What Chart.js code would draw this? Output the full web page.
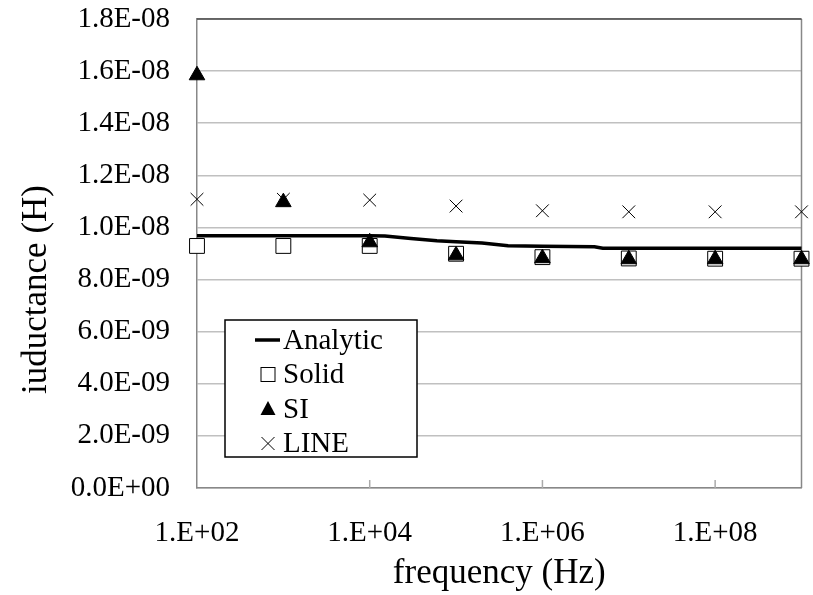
<!DOCTYPE html>
<html>
<head>
<meta charset="utf-8">
<script src="https://cdn.jsdelivr.net/npm/chart.js@4.4.1/dist/chart.umd.min.js"></script>
<style>
  html, body { margin: 0; padding: 0; background: #fff; }
  #wrap { width: 813px; height: 595px; position: relative; }
</style>
</head>
<body>
<div id="wrap"><canvas id="indChart"></canvas></div>
<script>
// frequencies of the simulated points
var freqs = [1e2, 1e3, 1e4, 1e5, 1e6, 1e7, 1e8, 1e9];
var solidVals = [9.29e-9, 9.29e-9, 9.29e-9, 8.99e-9, 8.86e-9, 8.81e-9, 8.8e-9, 8.8e-9];
var siVals = [1.584e-8, 1.097e-8, 9.43e-9, 8.93e-9, 8.82e-9, 8.78e-9, 8.78e-9, 8.78e-9];
var lineVals = [1.108e-8, 1.108e-8, 1.105e-8, 1.082e-8, 1.064e-8, 1.06e-8, 1.06e-8, 1.06e-8];

// analytic curve
var analyticFreqs = [1e2, 1e3, 1e4, 1.5e4, 3e4, 6e4, 1e5, 2e5, 4e5, 1e6, 4e6, 5e6, 1e7, 1e8, 1e9];
var analyticVals = [9.68e-9, 9.68e-9, 9.68e-9, 9.67e-9, 9.58e-9, 9.49e-9, 9.45e-9, 9.4e-9, 9.3e-9, 9.28e-9, 9.26e-9, 9.2e-9, 9.2e-9, 9.2e-9, 9.2e-9];

var xTicks = [1e2, 1e4, 1e6, 1e8];
var yTicks = [0, 2e-9, 4e-9, 6e-9, 8e-9, 1e-8, 1.2e-8, 1.4e-8, 1.6e-8, 1.8e-8];

var xTitle = 'frequency (Hz)';
var yTitle = 'iuductance (H)';

var serif = '"Liberation Serif", "Times New Roman", serif';

function pts(xs, ys) {
    return xs.map(function (x, i) { return { x: x, y: ys[i] }; });
}

function pad2(n) {
    n = Math.abs(n);
    return (n < 10 ? '0' : '') + n;
}

function fmtY(v) {
    var parts = v.toExponential(1).split('e');
    var e = parseInt(parts[1], 10);
    return parts[0] + 'E' + (e < 0 ? '-' : '+') + pad2(e);
}

function fmtX(v) {
    var e = Math.round(Math.log10(v));
    return '1.E' + (e < 0 ? '-' : '+') + pad2(e);
}

// frame round the plot area + small inward ticks on the x axis + y title
var framePlugin = {
    id: 'frame',
    beforeDatasetsDraw: function (chart) {
        var a = chart.chartArea, ctx = chart.ctx;
        ctx.save();
        ctx.strokeStyle = '#888888';
        ctx.lineWidth = 1.5;
        ctx.beginPath();
        ctx.moveTo(a.right, a.top);
        ctx.lineTo(a.right, a.bottom);
        ctx.stroke();
        ctx.strokeStyle = '#444444';
        ctx.beginPath();
        ctx.moveTo(a.left, a.top);
        ctx.lineTo(a.right, a.top);
        ctx.stroke();
        // inward tick marks
        var xs = chart.scales.x;
        ctx.strokeStyle = '#aaaaaa';
        ctx.lineWidth = 1.5;
        xs.ticks.forEach(function (t) {
            var px = xs.getPixelForValue(t.value);
            if (px <= a.left + 2) return;
            ctx.beginPath();
            ctx.moveTo(px, a.bottom);
            ctx.lineTo(px, a.bottom - 8);
            ctx.stroke();
        });
        // y axis title (sits a bit below the plot centre, like the original)
        ctx.translate(37, (a.top + a.bottom) / 2 + 36);
        ctx.rotate(-Math.PI / 2);
        ctx.font = '35px ' + serif;
        ctx.fillStyle = '#000';
        ctx.textAlign = 'center';
        ctx.textBaseline = 'middle';
        ctx.fillText(yTitle, 0, 0);
        ctx.restore();
    }
};

// legend box inside plot area
var legendPlugin = {
    id: 'boxLegend',
    afterDraw: function (chart) {
        var a = chart.chartArea, ctx = chart.ctx;
        var bx = a.left + 28, by = a.top + 301, bw = 192, bh = 137;
        ctx.save();
        ctx.fillStyle = '#ffffff';
        ctx.fillRect(bx, by, bw, bh);
        ctx.strokeStyle = '#000000';
        ctx.lineWidth = 1.5;
        ctx.strokeRect(bx, by, bw, bh);

        var names = chart.data.datasets.map(function (d) { return d.label; });
        var order = ['Analytic', 'Solid', 'SI', 'LINE'];
        var sx = bx + 43, tx = bx + 58;
        ctx.font = '29px ' + serif;
        ctx.textBaseline = 'middle';
        ctx.fillStyle = '#000';
        order.forEach(function (name, i) {
            var cy = by + 20 + i * 34.5;
            var ds = chart.data.datasets[names.indexOf(name)];
            ctx.strokeStyle = '#000';
            ctx.fillStyle = '#000';
            if (name === 'Analytic') {
                ctx.lineWidth = 3.5;
                ctx.beginPath();
                ctx.moveTo(sx - 13, cy);
                ctx.lineTo(sx + 12, cy);
                ctx.stroke();
            } else if (ds.pointStyle === 'rect') {
                ctx.lineWidth = 1;
                ctx.fillStyle = '#fff';
                ctx.fillRect(sx - 7, cy - 7, 14, 14);
                ctx.strokeRect(sx - 7, cy - 7, 14, 14);
            } else if (ds.pointStyle === 'triangle') {
                ctx.beginPath();
                ctx.moveTo(sx, cy - 8);
                ctx.lineTo(sx + 7.5, cy + 6);
                ctx.lineTo(sx - 7.5, cy + 6);
                ctx.closePath();
                ctx.fill();
            } else {
                ctx.lineWidth = 1;
                ctx.beginPath();
                ctx.moveTo(sx - 6.5, cy - 6.5);
                ctx.lineTo(sx + 6.5, cy + 6.5);
                ctx.moveTo(sx + 6.5, cy - 6.5);
                ctx.lineTo(sx - 6.5, cy + 6.5);
                ctx.stroke();
            }
            ctx.fillStyle = '#000';
            ctx.fillText(name, tx, cy + 1);
        });
        ctx.restore();
    }
};

var ctx = document.getElementById('indChart').getContext('2d');
var indChart = new Chart(ctx, {
    type: 'scatter',
    data: {
        datasets: [
            {
                label: 'Analytic',
                data: pts(analyticFreqs, analyticVals),
                showLine: true,
                borderColor: '#000000',
                borderWidth: 3.5,
                pointRadius: 0,
                tension: 0,
                clip: false,
                order: 2
            },
            {
                label: 'Solid',
                data: pts(freqs, solidVals),
                pointStyle: 'rect',
                pointRadius: 10.5,
                backgroundColor: '#ffffff',
                borderColor: '#000000',
                borderWidth: 1,
                clip: false,
                order: 3
            },
            {
                label: 'SI',
                data: pts(freqs, siVals),
                pointStyle: 'triangle',
                pointRadius: 9,
                backgroundColor: '#000000',
                borderColor: '#000000',
                borderWidth: 1,
                clip: false,
                order: 1
            },
            {
                label: 'LINE',
                data: pts(freqs, lineVals),
                pointStyle: 'crossRot',
                pointRadius: 9,
                borderColor: '#000000',
                borderWidth: 1,
                clip: false,
                order: 0
            }
        ]
    },
    options: {
        responsive: true,
        maintainAspectRatio: false,
        animation: false,
        layout: { padding: { top: 19, right: 11, bottom: 0, left: 0 } },
        plugins: {
            legend: { display: false },
            tooltip: { enabled: false }
        },
        scales: {
            x: {
                type: 'logarithmic',
                min: 1e2,
                max: 1e9,
                afterBuildTicks: function (s) {
                    s.ticks = xTicks.map(function (v) { return { value: v }; });
                },
                afterFit: function (s) { s.height = 107; },
                grid: { display: false, drawTicks: false },
                border: { display: true, color: '#888888', width: 1.5 },
                ticks: {
                    color: '#000',
                    font: { family: serif, size: 29 },
                    padding: 28,
                    maxRotation: 0,
                    autoSkip: false,
                    callback: function (v) { return fmtX(v); }
                },
                title: {
                    display: true,
                    text: xTitle,
                    color: '#000',
                    font: { family: serif, size: 35 },
                    padding: { top: 0, bottom: 0 }
                }
            },
            y: {
                min: 0,
                max: 1.8e-8,
                afterBuildTicks: function (s) {
                    s.ticks = yTicks.map(function (v) { return { value: v }; });
                },
                afterFit: function (s) { s.width = 197; },
                grid: {
                    color: '#c0c0c0',
                    lineWidth: 1.5,
                    drawTicks: true,
                    tickLength: 27,
                    tickColor: 'rgba(0,0,0,0)'
                },
                border: { display: true, color: '#888888', width: 1.5 },
                ticks: {
                    color: '#000',
                    font: { family: serif, size: 29 },
                    padding: 0,
                    callback: function (v) { return fmtY(v); }
                },
                title: { display: false }
            }
        }
    },
    plugins: [framePlugin, legendPlugin]
});
</script>
</body>
</html>
